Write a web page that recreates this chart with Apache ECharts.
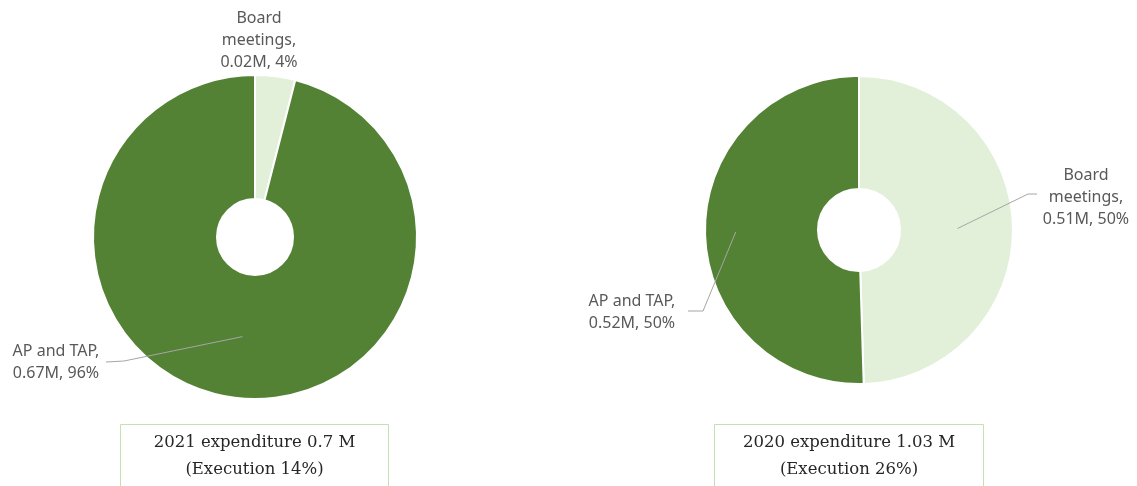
<!DOCTYPE html>
<html>
<head>
<meta charset="utf-8">
<script src="https://cdn.jsdelivr.net/npm/echarts@6/dist/echarts.min.js"></script>
<style>
html,body{margin:0;padding:0;background:#fff;}
#chart{width:1137px;height:486px;}
</style>
</head>
<body>
<div id="chart"></div>
<script>
// ---- data ----
const categories = ['Board meetings', 'AP and TAP'];
const categoryLines = ['Board\nmeetings,', 'AP and TAP,'];
const values2021 = [0.028, 0.672];
const values2020 = [0.51, 0.52];
const amountLabels2021 = ['0.02M', '0.67M'];
const amountLabels2020 = ['0.51M', '0.52M'];
const pctLabels2021 = ['4%', '96%'];
const pctLabels2020 = ['50%', '50%'];
const titleLines2021 = ['2021 expenditure 0.7 M', '(Execution 14%)'];
const titleLines2020 = ['2020 expenditure 1.03 M', '(Execution 26%)'];

const colors = ['#E2F0D9', '#548235'];

// ---- layout ----
const pies = [
  { values: values2021, amounts: amountLabels2021, pcts: pctLabels2021,
    center: [255, 237], inner: 38, outer: 162,
    labels: [
      { cx: 259, top: 7, line: null },
      { cx: 56, top: 340, line: { frac: 0.62, elbow: [124, 361], end: [106, 362] } }
    ] },
  { values: values2020, amounts: amountLabels2020, pcts: pctLabels2020,
    center: [859, 230], inner: 41, outer: 154,
    labels: [
      { cx: 1086, top: 164, line: { frac: 0.64, elbow: [1028, 194], end: [1037, 194] } },
      { cx: 632, top: 290, line: { frac: 0.8, elbow: [703, 311], end: [688, 311] } }
    ] }
];

function midAngles(values) {
  const total = values.reduce((a, b) => a + b, 0);
  let start = 90;
  return values.map(v => {
    const span = v / total * 360;
    const mid = start - span / 2;
    start -= span;
    return mid * Math.PI / 180;
  });
}

function buildSeries(p) {
  return {
    type: 'pie',
    center: p.center,
    radius: [p.inner, p.outer],
    startAngle: 90,
    clockwise: true,
    avoidLabelOverlap: false,
    silent: true,
    itemStyle: { borderColor: '#ffffff', borderWidth: 2 },
    label: {
      show: true,
      position: 'outside',
      fontFamily: 'Noto Sans',
      fontSize: 16,
      lineHeight: 22,
      color: '#595959',
      align: 'center'
    },
    labelLine: { show: false },
    data: p.values.map((v, i) => ({
      name: categories[i],
      value: v,
      itemStyle: { color: colors[i] },
      label: { formatter: categoryLines[i] + '\n' + p.amounts[i] + ', ' + p.pcts[i] }
    })),
    labelLayout: function (params) {
      const L = p.labels[params.dataIndex];
      return { x: L.cx, y: L.top, align: 'center', verticalAlign: 'top' };
    }
  };
}

function leaderLines(p) {
  const mids = midAngles(p.values);
  const out = [];
  p.labels.forEach((L, i) => {
    if (!L.line) return;
    const ax = p.center[0] + Math.cos(mids[i]) * L.line.frac * p.outer;
    const ay = p.center[1] - Math.sin(mids[i]) * L.line.frac * p.outer;
    out.push({
      type: 'polyline', z: 100, silent: true,
      shape: { points: [[ax, ay], L.line.elbow, L.line.end] },
      style: { stroke: '#A6A6A6', lineWidth: 1, fill: 'none' }
    });
  });
  return out;
}

function titleBox(x, w, lines) {
  return [
    { type: 'rect', shape: { x: x, y: 424.5, width: w, height: 80 },
      style: { fill: 'none', stroke: '#C5E0B4', lineWidth: 1 } },
    { type: 'text', x: x + w / 2, y: 456,
      style: { text: lines.join('\n'), fill: '#262626', font: '16.5px "DejaVu Serif"',
               lineHeight: 27, align: 'center', verticalAlign: 'middle' } }
  ];
}

const chart = echarts.init(document.getElementById('chart'), null, { renderer: 'canvas' });

chart.setOption({
  animation: false,
  backgroundColor: '#ffffff',
  series: pies.map(buildSeries),
  graphic: [].concat(
    leaderLines(pies[0]), leaderLines(pies[1]),
    titleBox(120.5, 268, titleLines2021), titleBox(714.5, 269, titleLines2020)
  )
});
</script>
</body>
</html>
